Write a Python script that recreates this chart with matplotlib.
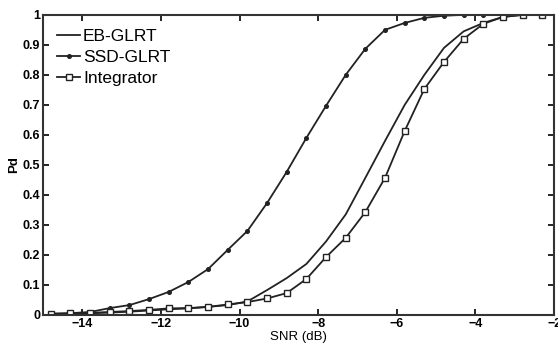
import numpy as np
import matplotlib.pyplot as plt

plt.rcParams['font.family'] = ['Liberation Sans', 'DejaVu Sans']

snr = [-14.8, -14.3, -13.8, -13.3, -12.8, -12.3, -11.8, -11.3, -10.8, -10.3,
       -9.8, -9.3, -8.8, -8.3, -7.8, -7.3, -6.8, -6.3, -5.8, -5.3,
       -4.8, -4.3, -3.8, -3.3, -2.8, -2.3]

eb_glrt = [0.003, 0.004, 0.006, 0.008, 0.011, 0.015, 0.019, 0.022, 0.027, 0.033,
           0.045, 0.083, 0.123, 0.17, 0.245, 0.335, 0.457, 0.58, 0.70, 0.80,
           0.89, 0.945, 0.973, 0.993, 1.0, 1.0]

ssd_glrt = [0.005, 0.006, 0.01, 0.023, 0.033, 0.053, 0.077, 0.11, 0.153, 0.217,
            0.28, 0.373, 0.477, 0.59, 0.697, 0.80, 0.887, 0.95, 0.973, 0.99,
            0.997, 1.0, 1.0, 1.0, 1.0, 1.0]

integrator = [0.003, 0.005, 0.007, 0.01, 0.013, 0.017, 0.022, 0.023, 0.027, 0.035,
              0.043, 0.055, 0.073, 0.12, 0.193, 0.257, 0.343, 0.457, 0.613, 0.753,
              0.843, 0.92, 0.97, 0.993, 1.0, 1.0]

fig = plt.figure(figsize=(5.58, 3.45), dpi=100)
ax = fig.add_axes([0.077, 0.087, 0.916, 0.870])

ax.plot(snr, eb_glrt, '-', color='#222222', lw=1.3, label='EB-GLRT')
ax.plot(snr, ssd_glrt, '-', color='#222222', lw=1.3, marker='o', ms=2.6,
        mfc='#222222', label='SSD-GLRT')
ax.plot(snr, integrator, '-', color='#222222', lw=1.3, marker='s', ms=4.5,
        mfc='white', mew=1.0, label='Integrator')

ax.set_xlim(-15, -2)
ax.set_ylim(0, 1)
ax.set_xticks([-14, -12, -10, -8, -6, -4, -2])
ax.set_yticks(np.arange(0, 1.01, 0.1))
ax.set_yticklabels(['0', '0.1', '0.2', '0.3', '0.4', '0.5', '0.6', '0.7', '0.8', '0.9', '1'])
ax.tick_params(direction='in', top=True, right=True, length=4, width=1.2,
               labelsize=9, pad=2)
for lab in ax.get_xticklabels() + ax.get_yticklabels():
    lab.set_fontweight('bold')
for s in ax.spines.values():
    s.set_linewidth(1.5)
    s.set_color('#333333')

ax.set_xlabel('SNR (dB)', fontsize=9.5, labelpad=1)
ax.set_ylabel('Pd', fontsize=9.5, fontweight='bold', labelpad=2)

ax.legend(loc='upper left', frameon=False, fontsize=12.5, handlelength=1.35,
          handletextpad=0.15, labelspacing=0.35, borderaxespad=0.5,
          borderpad=0.3)

fig.savefig('out.png', dpi=100)
